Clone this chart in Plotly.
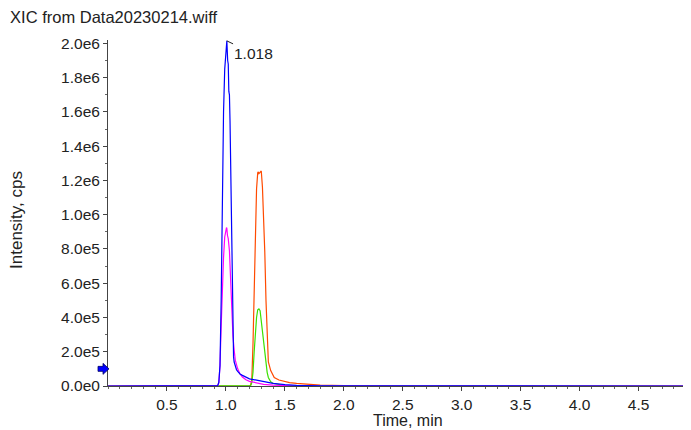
import plotly.graph_objects as go

# ---- data (intensity in units of 1e6 cps) ----
t_blue = [0.0, 0.5, 0.90, 0.93, 0.94, 0.95, 0.96, 0.965, 0.97, 0.975, 0.98, 0.99, 1.00, 1.008,
          1.015, 1.02, 1.025, 1.03, 1.035, 1.04, 1.045, 1.05, 1.055, 1.06, 1.065, 1.07, 1.08,
          1.09, 1.10, 1.12, 1.14, 1.17, 1.20, 1.26, 1.32, 1.40, 1.50, 1.60, 1.80, 2.5, 3.5, 4.95]
i_blue = [0, 0, 0, 0.002, 0.02, 0.12, 0.5, 0.85, 1.15, 1.4, 1.6, 1.85, 1.98, 2.015,
          1.90, 1.88, 1.72, 1.70, 1.55, 1.3, 1.05, 0.8, 0.5, 0.25, 0.17, 0.14, 0.11,
          0.095, 0.085, 0.07, 0.062, 0.05, 0.042, 0.034, 0.025, 0.015, 0.008, 0.004, 0.001, 0, 0, 0]

t_magenta = [0.0, 0.5, 0.90, 0.93, 0.94, 0.95, 0.96, 0.97, 0.98, 0.99, 1.00, 1.005, 1.008,
             1.013, 1.02, 1.03, 1.04, 1.05, 1.06, 1.07, 1.08, 1.10, 1.12, 1.14, 1.17, 1.20,
             1.26, 1.32, 1.40, 1.50, 1.60, 2.5, 4.95]
i_magenta = [0, 0, 0, 0.002, 0.02, 0.12, 0.35, 0.58, 0.75, 0.87, 0.91, 0.925, 0.92,
             0.88, 0.86, 0.79, 0.6, 0.42, 0.29, 0.21, 0.15, 0.1, 0.07, 0.052, 0.036, 0.027,
             0.017, 0.01, 0.005, 0.002, 0, 0, 0]

t_orange = [0.0, 0.5, 1.0, 1.20, 1.21, 1.22, 1.23, 1.24, 1.25, 1.26, 1.27, 1.275, 1.28, 1.29,
            1.30, 1.31, 1.32, 1.33, 1.34, 1.35, 1.36, 1.38, 1.41, 1.45, 1.50, 1.54, 1.60, 1.68,
            1.80, 2.0, 2.5, 4.95]
i_orange = [0, 0, 0, 0, 0.005, 0.04, 0.25, 0.6, 0.92, 1.15, 1.245, 1.25, 1.24, 1.245,
            1.255, 1.16, 0.98, 0.78, 0.5, 0.24, 0.14, 0.09, 0.05, 0.035, 0.025, 0.02, 0.015,
            0.01, 0.005, 0.002, 0, 0]

t_green = [0.0, 0.5, 1.0, 1.20, 1.21, 1.22, 1.23, 1.24, 1.25, 1.26, 1.27, 1.28, 1.29, 1.30,
           1.31, 1.32, 1.33, 1.34, 1.35, 1.36, 1.38, 1.40, 1.45, 1.50, 2.0, 4.95]
i_green = [0, 0, 0, 0, 0.003, 0.02, 0.08, 0.2, 0.32, 0.4, 0.445, 0.45, 0.44, 0.38,
           0.32, 0.26, 0.2, 0.13, 0.08, 0.05, 0.025, 0.015, 0.007, 0.003, 0, 0]

y_tick_vals = [0.0, 0.2, 0.4, 0.6, 0.8, 1.0, 1.2, 1.4, 1.6, 1.8, 2.0]
y_tick_text = ["0.0e0", "2.0e5", "4.0e5", "6.0e5", "8.0e5", "1.0e6", "1.2e6", "1.4e6",
               "1.6e6", "1.8e6", "2.0e6"]
x_tick_vals = [0.5, 1.0, 1.5, 2.0, 2.5, 3.0, 3.5, 4.0, 4.5]
x_tick_text = ["0.5", "1.0", "1.5", "2.0", "2.5", "3.0", "3.5", "4.0", "4.5"]

peak_time = 1.008
peak_intensity = 2.015
peak_label = "1.018"
threshold = 0.1

SCALE = 1e6
Y_MAX = 2.02
FONT = "Liberation Sans, Arial, sans-serif"
TXT = "#222"

fig = go.Figure()
series = [
    (t_orange, i_orange, "#FF4A00"),
    (t_green, i_green, "#3BE000"),
    (t_magenta, i_magenta, "#FF00FF"),
    (t_blue, i_blue, "#0000FF"),
]
for t, v, c in series:
    fig.add_trace(go.Scatter(x=t, y=[a * SCALE for a in v], mode="lines",
                             line=dict(color=c, width=1.2), showlegend=False,
                             hoverinfo="skip"))

# threshold arrow (block arrow left of the y axis)
fig.add_shape(type="path", xref="paper", yref="paper",
              xsizemode="pixel", ysizemode="pixel",
              xanchor=0, yanchor=threshold / Y_MAX,
              path="M -10,-2.5 L -5,-2.5 L -5,-5.5 L 1,0 L -5,5.5 L -5,2.5 L -10,2.5 Z",
              fillcolor="#0000FF", line=dict(color="#000066", width=0.8), layer="above")

fig.add_annotation(x=peak_time, y=peak_intensity * SCALE, text=peak_label, showarrow=True,
                   arrowhead=0, arrowwidth=1, arrowcolor=TXT, ax=27, ay=13,
                   font=dict(family=FONT, size=15.5, color=TXT), xanchor="center",
                   yanchor="middle")

# axis titles
fig.add_annotation(xref="paper", yref="paper", x=0.5146, y=-0.1, text="Time, min",
                   showarrow=False, xanchor="center", yanchor="middle",
                   font=dict(family=FONT, size=16, color=TXT))
fig.add_annotation(xref="paper", yref="paper", x=-0.156, y=0.48, text="Intensity, cps",
                   showarrow=False, xanchor="center", yanchor="middle", textangle=-90,
                   font=dict(family=FONT, size=17, color=TXT))

fig.update_layout(
    width=683, height=422,
    margin=dict(l=100, r=0, t=32, b=44),
    paper_bgcolor="white", plot_bgcolor="white",
    font=dict(family=FONT, size=15.5, color=TXT),
    title=dict(text="XIC from Data20230214.wiff", x=0.003, xanchor="left",
               y=1 - 9 / 422, yanchor="middle", font=dict(family=FONT, size=16.5, color=TXT)),
    xaxis=dict(range=[0, 4.945], tickvals=x_tick_vals, ticktext=x_tick_text,
               showgrid=False, zeroline=False, showline=True, linecolor="#444",
               linewidth=1, ticks="outside", ticklen=4, tickcolor="#444",
               minor=dict(dtick=0.1, tick0=0, ticks="outside", ticklen=2, tickcolor="#666")),
    yaxis=dict(range=[0, Y_MAX * SCALE], tickvals=[v * SCALE for v in y_tick_vals],
               ticktext=y_tick_text, showgrid=False, zeroline=False, showline=True,
               linecolor="#444", linewidth=1, ticks="outside", ticklen=4, tickcolor="#444",
               minor=dict(dtick=0.1 * SCALE, tick0=0, ticks="outside", ticklen=2,
                          tickcolor="#666")),
)

fig.write_html("out.html")
